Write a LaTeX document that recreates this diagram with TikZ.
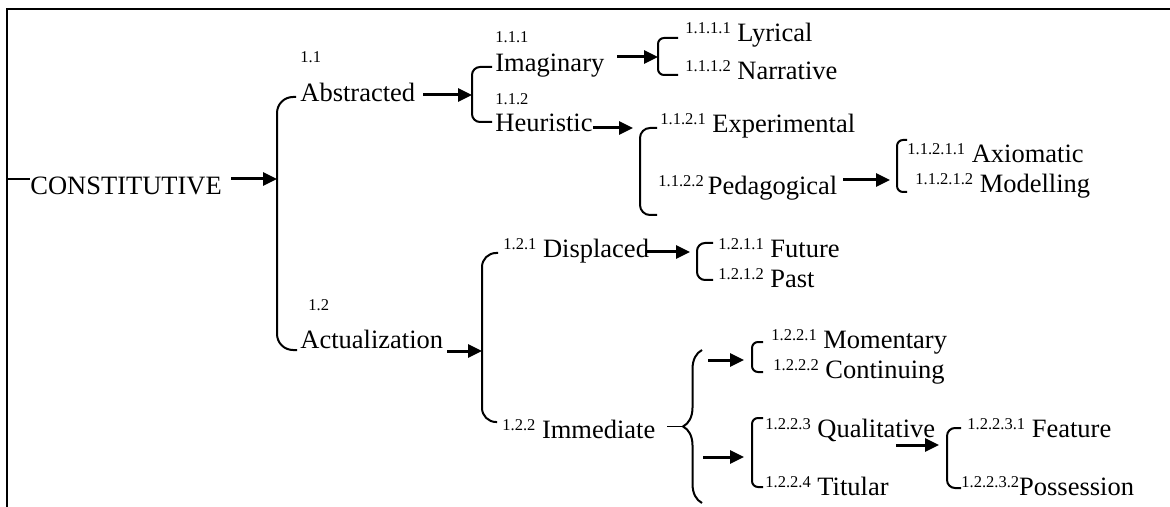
\documentclass[tikz,border=0pt]{standalone}
\usepackage{fontspec}
\setmainfont{Liberation Serif}
\usetikzlibrary{positioning}
\usetikzlibrary{arrows.meta}
\usetikzlibrary{decorations.pathreplacing}
\newcommand{\lvl}[1]{\raisebox{4pt}{\fontsize{8.25}{9}\selectfont #1}}
\tikzset{
  term/.style={anchor=base west,inner sep=0pt,font=\fontsize{13.25}{15}\selectfont},
  lvlnum/.style={anchor=base west,inner sep=0pt,font=\fontsize{8.25}{9}\selectfont},
  bracket/.style={line width=1pt,rounded corners=#1},
  bracket/.default=4pt,
  leadsto/.style={line width=1.5pt,-{Triangle[length=7pt,width=6.5pt]}},
}

\begin{document}
\begin{tikzpicture}[x=0.5pt,y=-0.5pt]
	\useasboundingbox (0,0) rectangle (1170,507);
	% frame
	\draw[line width=1pt] (1170,9.5) -- (7,9.5) -- (7,507);
	% root
	\coordinate (tick) at (7,179);
	\node[term] (cons) at (30,195) {CONSTITUTIVE};
	\draw[line width=0.8pt] (tick) -- (30,179);
	\coordinate (cons-out) at (231,179);
	\coordinate (b1) at (277,179);
	\draw[leadsto] (cons-out) -- (b1);
	% first level
	\draw[bracket=8pt] (296,97) -- (277,97) -- (277,350) -- (297,350);
	\node[lvlnum] (n11) at (300,63) {1.1};
	\node[term] (abs) at (300,102) {Abstracted};
	\node[lvlnum] (n12) at (308,310) {1.2};
	\node[term] (act) at (300,348) {Actualization};
	% abstracted branch
	\coordinate (abs-out) at (423,95);
	\coordinate (b3) at (472,95);
	\draw[leadsto] (abs-out) -- (b3);
	\draw[bracket=4pt] (492,67) -- (472,67) -- (472,122) -- (492,122);
	\node[lvlnum] (n111) at (495,43) {1.1.1};
	\node[term] (ima) at (495,72) {Imaginary};
	\node[lvlnum] (n112) at (495,105) {1.1.2};
	\node[term] (heu) at (495,132) {Heuristic};
	% imaginary
	\coordinate (ima-out) at (617,57);
	\coordinate (b4) at (658,57);
	\draw[leadsto] (ima-out) -- (b4);
	\draw[bracket=3pt] (678,38) -- (658,38) -- (658,75) -- (678,75);
	\node[term] (lyr) at (685,42) {\lvl{1.1.1.1} Lyrical};
	\node[term] (nar) at (685,80) {\lvl{1.1.1.2} Narrative};
	% heuristic
	\coordinate (heu-out) at (593,128);
	\coordinate (b5) at (633,128);
	\draw[leadsto] (heu-out) -- (b5);
	\draw[bracket=5pt] (657,128) -- (640,128) -- (640,215) -- (657,215);
	\node[term] (exp) at (660,133) {\lvl{1.1.2.1} Experimental};
	\node[term] (ped) at (658,195) {\lvl{1.1.2.2}\kern2pt Pedagogical};
	% pedagogical
	\coordinate (ped-out) at (843,180);
	\coordinate (b6) at (890,180);
	\draw[leadsto] (ped-out) -- (b6);
	\draw[bracket=3pt] (907,140) -- (897,140) -- (897,192) -- (907,192);
	\node[term] (axi) at (907,163) {\lvl{1.1.2.1.1} Axiomatic};
	\node[term] (mod) at (915,193) {\lvl{1.1.2.1.2} Modelling};
	% actualization branch
	\coordinate (act-out) at (447,351);
	\coordinate (b2) at (482,351);
	\draw[leadsto] (act-out) -- (b2);
	\draw[bracket=7pt] (498,253) -- (482,253) -- (482,422) -- (497,422);
	\node[term] (dis) at (503,257) {\lvl{1.2.1} Displaced};
	\node[term] (imm) at (502,438) {\lvl{1.2.2} Immediate};
	% displaced
	\coordinate (dis-out) at (647,252);
	\coordinate (b7) at (690,252);
	\draw[leadsto] (dis-out) -- (b7);
	\draw[bracket=4pt] (713,243) -- (697,243) -- (697,280) -- (713,280);
	\node[term] (fut) at (718,257) {\lvl{1.2.1.1} Future};
	\node[term] (pas) at (718,287) {\lvl{1.2.1.2} Past};
	% immediate
	\coordinate (imm-out) at (667,426.5);
	\coordinate (brace-tip) at (683,426.5);
	\draw[line width=0.8pt] (imm-out) -- (brace-tip);
	\draw[line width=1pt,decorate,decoration={brace,amplitude=9.5pt}] (702,503) -- (702,350);
	\coordinate (up-out) at (708,360);
	\coordinate (b8) at (744,360);
	\draw[leadsto] (up-out) -- (b8);
	\draw[bracket=3pt] (763,342) -- (752,342) -- (752,372) -- (763,372);
	\node[term] (mom) at (771,348) {\lvl{1.2.2.1} Momentary};
	\node[term] (con) at (773,378) {\lvl{1.2.2.2} Continuing};
	\coordinate (low-out) at (703,457);
	\coordinate (b9) at (744,457);
	\draw[leadsto] (low-out) -- (b9);
	\draw[bracket=3pt] (763,418) -- (752,418) -- (752,487) -- (763,487);
	\node[term] (qua) at (765,437) {\lvl{1.2.2.3} Qualitative};
	\node[term] (tit) at (765,495) {\lvl{1.2.2.4} Titular};
	% qualitative
	\coordinate (qua-out) at (896,445);
	\coordinate (b10) at (939,445);
	\draw[leadsto] (qua-out) -- (b10);
	\draw[bracket=4pt] (961,428) -- (947,428) -- (947,488) -- (961,488);
	\node[term] (fea) at (967,437) {\lvl{1.2.2.3.1} Feature};
	\node[term] (pos) at (961,495) {\lvl{1.2.2.3.2}Possession};
\end{tikzpicture}
\end{document}
